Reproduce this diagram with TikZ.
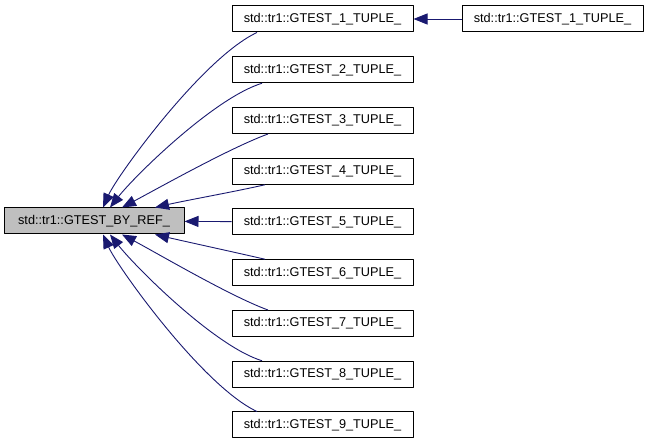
\documentclass[tikz,border=0pt]{standalone}
\usepackage{fontspec}
\setmainfont{Liberation Sans}
\usetikzlibrary{arrows.meta}
\definecolor{edgeblue}{HTML}{191970}
\definecolor{refgray}{HTML}{BFBFBF}
\tikzset{
	tbox/.style={draw=black,line width=1pt,fill=white,minimum width=181pt,minimum height=26pt,inner sep=0pt},
	refbox/.style={tbox,fill=refgray,minimum width=180pt},
	link/.style={draw=edgeblue,line width=.9pt,->}
}
\begin{document}
\begin{tikzpicture}[x=1pt,y=1pt,line join=round,font=\fontsize{12.7}{14}\selectfont,>={Stealth[inset=0pt,length=14pt,width=11pt]}]
	\useasboundingbox (0,0) rectangle (651,-443);
	\node[refbox] (ref) at (94,-221) {std::tr1::GTEST\_BY\_REF\_};
	\foreach \i in {1,...,9}\node[tbox] (t\i) at (322.5,{-19-50.75*(\i-1)}) {std::tr1::GTEST\_\i\_TUPLE\_};
	\node[tbox] (u1) at (552.5,-19) {std::tr1::GTEST\_1\_TUPLE\_};
	\foreach \i/\s/\e/\o/\a/\n/\b in {1/-65.5/9/205/60/66/35,2/-60.5/16/197/50/52/40,3/-54.5/28/200/40/28/40,4/-57.5/61/193/30/13/30}{
		\pgfmathtruncatemacro\j{10-\i}
		\draw[link] ([xshift=\s pt]t\i.south) .. controls +(\o:\a) and +(\n:\b) .. ([xshift=\e pt]ref.north);
		\draw[link] ([xshift=\s pt]t\j.north) .. controls +(-\o:\a) and +(-\n:\b) .. ([xshift=\e pt]ref.south);
	}
	\draw[link] (t5) -- (ref);
	\draw[link] (u1) -- (t1);
\end{tikzpicture}
\end{document}
